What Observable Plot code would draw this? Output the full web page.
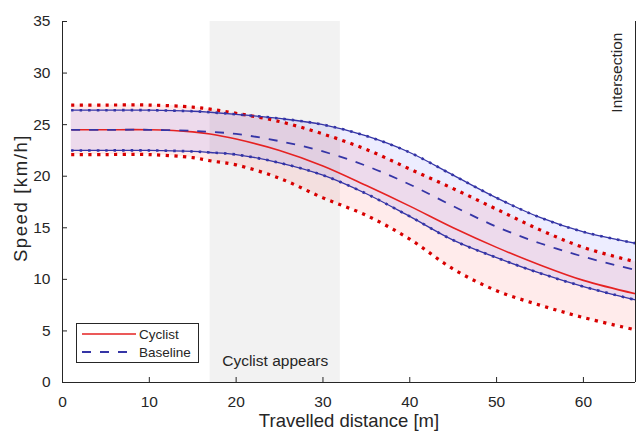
<!DOCTYPE html>
<html>
<head>
<meta charset="utf-8">
<script src="https://cdn.jsdelivr.net/npm/d3@7"></script>
<script src="https://cdn.jsdelivr.net/npm/@observablehq/plot@0.6"></script>
<style>
  body { margin: 0; background: #fff; font-family: "Liberation Sans", Arial, sans-serif; }
  #wrap { position: relative; width: 636px; height: 437px; }
  #legend { position: absolute; left: 76px; top: 323px; width: 121px; height: 38px; border: 1px solid #262626; background: #fff; font-size: 13.5px; color: #262626; }
  #legend .row { position: absolute; left: 4px; height: 18px; display: flex; align-items: center; }
  #legend svg { margin-right: 2px; }
  .ylab text { letter-spacing: 1.6px; }
</style>
</head>
<body>
<div id="wrap"></div>
<script>
const distance      = [1, 5, 10, 15, 17, 20, 25, 30, 35, 40, 45, 50, 55, 60, 66];
const cyclistMean   = [24.5, 24.5, 24.5, 24.3, 24.1, 23.6, 22.5, 21.0, 19.1, 17.1, 15.0, 13.1, 11.4, 9.9, 8.6];
const cyclistUpper  = [26.9, 26.9, 26.9, 26.7, 26.5, 26.1, 25.3, 24.1, 22.6, 20.7, 18.8, 16.8, 14.8, 13.1, 11.7];
const cyclistLower  = [22.1, 22.1, 22.1, 21.8, 21.5, 21.1, 19.8, 17.9, 16.2, 13.9, 11.0, 8.9, 7.5, 6.3, 5.1];
const baselineMean  = [24.5, 24.5, 24.5, 24.4, 24.3, 24.1, 23.4, 22.4, 21.0, 19.2, 17.1, 15.1, 13.5, 12.2, 10.9];
const baselineUpper = [26.4, 26.4, 26.4, 26.3, 26.2, 26.0, 25.6, 25.0, 23.9, 22.3, 20.1, 17.9, 16.0, 14.6, 13.5];
const baselineLower = [22.5, 22.5, 22.5, 22.4, 22.3, 22.1, 21.3, 20.1, 18.3, 16.1, 13.8, 12.1, 10.6, 9.3, 8.0];

const xTicks = [0, 10, 20, 30, 40, 50, 60];
const yTicks = [0, 5, 10, 15, 20, 25, 30, 35];
const appearsZone = [{x1: 17, x2: 32, y1: 0, y2: 35, label: "Cyclist appears"}];
const intersectionAt = 66;

const rows = distance.map((d, i) => ({
  d,
  cm: cyclistMean[i], cu: cyclistUpper[i], cl: cyclistLower[i],
  bm: baselineMean[i], bu: baselineUpper[i], bl: baselineLower[i]
}));

const RED = "#e52222", RED_DOT = "#d80000", BLUE = "#3535a6";
const curve = "catmull-rom";
const cap = {strokeLinecap: "butt", curve};

const chart = Plot.plot({
  width: 636, height: 437,
  marginLeft: 62, marginRight: 1, marginTop: 21, marginBottom: 55,
  style: {fontFamily: '"Liberation Sans", Arial, sans-serif', color: "#262626", background: "#fff"},
  x: {domain: [0, 66]},
  y: {domain: [0, 35]},
  marks: [
    Plot.rect(appearsZone, {x1: "x1", x2: "x2", y1: "y1", y2: "y2", fill: "#f2f2f2"}),
    Plot.areaY(rows, {x: "d", y1: "cl", y2: "cu", fill: "#ff0000", fillOpacity: 0.08, curve}),
    Plot.areaY(rows, {x: "d", y1: "bl", y2: "bu", fill: "#0000ff", fillOpacity: 0.07, curve}),
    Plot.text(appearsZone, {x: d => (d.x1 + d.x2) / 2, y: 2.1, text: "label", fontSize: 15.5, fill: "#262626"}),
    // cyclist
    Plot.line(rows, {x: "d", y: "cm", stroke: RED, strokeWidth: 1.6, ...cap}),
    Plot.line(rows, {x: "d", y: "cu", stroke: RED_DOT, strokeWidth: 3.2, strokeDasharray: "3.2,5.4", ...cap}),
    Plot.line(rows, {x: "d", y: "cl", stroke: RED_DOT, strokeWidth: 3.2, strokeDasharray: "3.2,5.4", ...cap}),
    // baseline
    Plot.line(rows, {x: "d", y: "bu", stroke: BLUE, strokeWidth: 1.3, ...cap}),
    Plot.line(rows, {x: "d", y: "bu", stroke: BLUE, strokeWidth: 2.6, strokeDasharray: "2.5,6", ...cap}),
    Plot.line(rows, {x: "d", y: "bl", stroke: BLUE, strokeWidth: 1.3, ...cap}),
    Plot.line(rows, {x: "d", y: "bl", stroke: BLUE, strokeWidth: 2.6, strokeDasharray: "2.5,6", ...cap}),
    Plot.line(rows, {x: "d", y: "bm", stroke: BLUE, strokeWidth: 1.8, strokeDasharray: "9,9", ...cap}),
    // intersection
    Plot.ruleX([intersectionAt], {stroke: "#262626", strokeWidth: 1}),
    Plot.text(["Intersection"], {x: intersectionAt, y: 35, rotate: -90, textAnchor: "end", dx: -18, dy: 11, fontSize: 15.5, fill: "#262626"}),
    // axes
    Plot.ruleX([0], {stroke: "#262626"}),
    Plot.ruleY([0], {stroke: "#262626"}),
    Plot.axisX({ticks: xTicks, tickSize: 5, dy: -5, tickPadding: 13, fontSize: 15.5, label: null, stroke: "#262626"}),
    Plot.axisY({ticks: yTicks, tickSize: 5, dx: 5, tickPadding: 12, fontSize: 15.5, label: null, stroke: "#262626"}),
    Plot.text(["Travelled distance [m]"], {frameAnchor: "bottom", textAnchor: "middle", dy: 44, fontSize: 18.5, fill: "#262626"}),
    Plot.text(["Speed [km/h]"], {frameAnchor: "left", textAnchor: "middle", rotate: -90, dx: -41, dy: -4, fontSize: 18.5, fill: "#262626", className: "ylab"})
  ]
});
const wrap = document.getElementById("wrap");
wrap.appendChild(chart);

const legend = document.createElement("div");
legend.id = "legend";
legend.innerHTML = `
  <div class="row" style="top:1px"><svg width="56" height="6"><line x1="1" y1="3" x2="55" y2="3" stroke="${RED}" stroke-width="1.6"/></svg>Cyclist</div>
  <div class="row" style="top:19px"><svg width="56" height="6"><line x1="1" y1="3" x2="55" y2="3" stroke="${BLUE}" stroke-width="1.8" stroke-dasharray="9,9"/></svg>Baseline</div>`;
wrap.appendChild(legend);
</script>
</body>
</html>
